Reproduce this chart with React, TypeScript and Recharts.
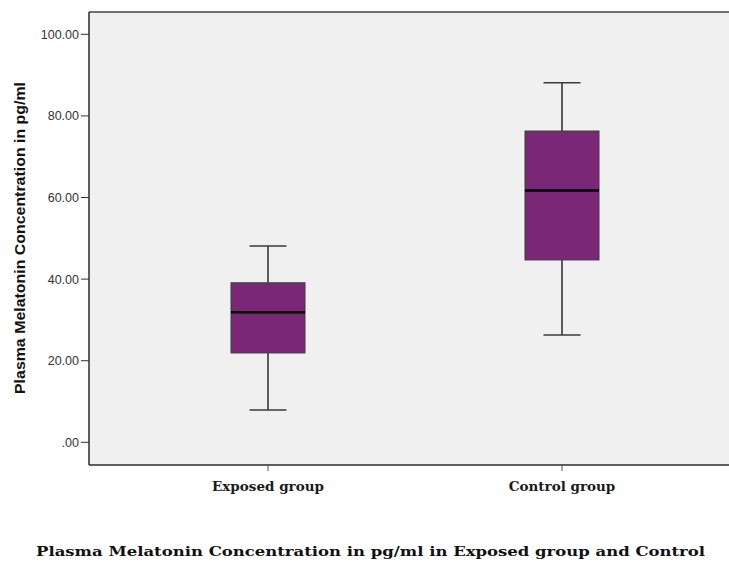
import { ComposedChart, Bar, XAxis, YAxis, CartesianGrid, ReferenceLine } from 'recharts'

const GROUPS = ['Exposed group', 'Control group']
const MINS = [7.9, 26.3]
const Q1S = [21.9, 44.7]
const MEDIANS = [31.9, 61.7]
const Q3S = [39.1, 76.3]
const MAXS = [48.1, 88.1]
const Y_TICKS = [0, 20, 40, 60, 80, 100]
const Y_MIN = -5.56
const Y_MAX = 105.47

const data = GROUPS.map((name, i) => ({
  name,
  range: [MINS[i], MAXS[i]],
  min: MINS[i],
  q1: Q1S[i],
  median: MEDIANS[i],
  q3: Q3S[i],
  max: MAXS[i],
}))

const fmtY = (v: number) => (v === 0 ? '.00' : v.toFixed(2))

// draws one box from the bar's [min, max] range, other stats scaled within it
function BoxShape(props: any) {
  const { x, y, width, height, payload } = props
  const { min, q1, median, q3, max } = payload
  const py = (v: number) => y + ((max - v) * height) / (max - min)
  const cx = x + width / 2
  const cap = width / 4
  return (
    <g>
      <line x1={cx} x2={cx} y1={py(max)} y2={py(q3)} stroke="#2b2b2b" strokeWidth={1.5} />
      <line x1={cx} x2={cx} y1={py(q1)} y2={py(min)} stroke="#2b2b2b" strokeWidth={1.5} />
      <line x1={cx - cap} x2={cx + cap} y1={py(max)} y2={py(max)} stroke="#3a3a3a" strokeWidth={1.5} />
      <line x1={cx - cap} x2={cx + cap} y1={py(min)} y2={py(min)} stroke="#3a3a3a" strokeWidth={1.5} />
      <rect x={x} y={py(q3)} width={width} height={py(q1) - py(q3)} fill="#7a2777" stroke="#3d3d3d" strokeWidth={1} />
      <line x1={x} x2={x + width} y1={py(median)} y2={py(median)} stroke="#000" strokeWidth={2.5} />
    </g>
  )
}

function GroupTick(props: any) {
  const { x, y, payload } = props
  return (
    <text
      x={x}
      y={y + 18}
      textAnchor="middle"
      fontFamily="DejaVu Serif"
      fontWeight="bold"
      fontSize={13.5}
      fill="#1a1a1a"
    >
      {payload.value}
    </text>
  )
}

export default function App() {
  return (
    <div style={{ position: 'absolute', left: 0, top: 0, width: 729, height: 568, background: '#fff' }}>
      <ComposedChart width={729} height={568} data={data} margin={{ top: 12, right: 0, bottom: 73, left: 0 }}>
        <CartesianGrid fill="#f0f0f0" horizontal={false} vertical={false} />
        <XAxis
          dataKey="name"
          padding={{ left: 32, right: 20 }}
          height={30}
          axisLine={{ stroke: '#2b2b2b', strokeWidth: 1.5 }}
          tickLine={{ stroke: '#555' }}
          tickSize={6}
          tick={<GroupTick />}
        />
        <YAxis
          type="number"
          domain={[Y_MIN, Y_MAX]}
          ticks={Y_TICKS}
          allowDataOverflow
          width={89}
          tickFormatter={fmtY}
          axisLine={{ stroke: '#2b2b2b', strokeWidth: 1.5 }}
          tickLine={{ stroke: '#333' }}
          tickSize={8}
          tick={{ fontFamily: 'Liberation Sans', fontSize: 12.5, fill: '#333' }}
        />
        <ReferenceLine y={Y_MAX} stroke="#707070" strokeWidth={2} ifOverflow="visible" />
        <Bar dataKey="range" barSize={74} shape={BoxShape} isAnimationActive={false} />
      </ComposedChart>
      <svg width={729} height={568} style={{ position: 'absolute', left: 0, top: 0, pointerEvents: 'none' }}>
        <text
          x={19}
          y={238}
          transform="rotate(-90 19 238)"
          textAnchor="middle"
          dominantBaseline="central"
          textLength={312}
          lengthAdjust="spacingAndGlyphs"
          fontFamily="Liberation Sans"
          fontWeight="bold"
          fontSize={15}
          fill="#111"
        >
          Plasma Melatonin Concentration in pg/ml
        </text>
        <text
          x={36}
          y={556}
          textLength={669}
          lengthAdjust="spacingAndGlyphs"
          fontFamily="DejaVu Serif"
          fontWeight="bold"
          fontSize={13.5}
          fill="#111"
        >
          Plasma Melatonin Concentration in pg/ml in Exposed group and Control
        </text>
      </svg>
    </div>
  )
}
